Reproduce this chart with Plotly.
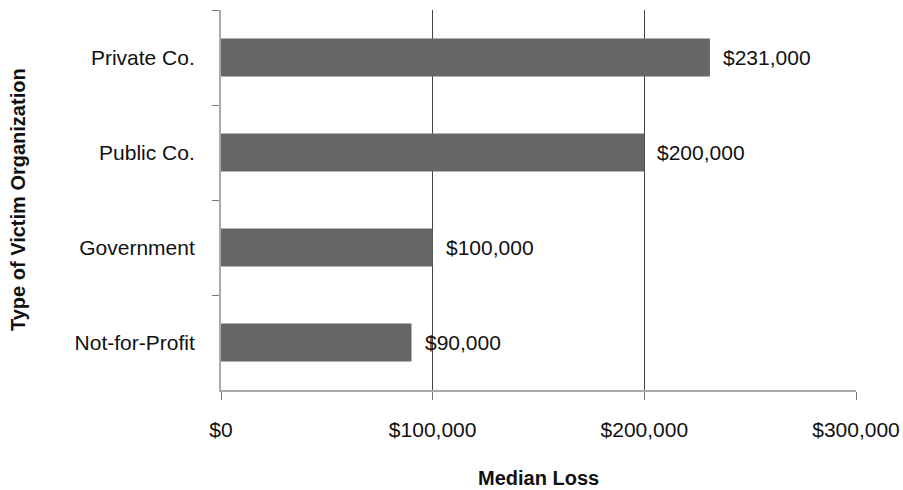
import plotly.graph_objects as go

categories = ["Private Co.", "Public Co.", "Government", "Not-for-Profit"]
median_loss = [231000, 200000, 100000, 90000]
value_labels = ["$231,000", "$200,000", "$100,000", "$90,000"]
x_tick_vals = [0, 100000, 200000, 300000]
x_tick_text = ["$0", "$100,000", "$200,000", "$300,000"]

FONT = "Liberation Sans, Arial, Helvetica, sans-serif"

fig = go.Figure()
fig.add_trace(go.Bar(
    y=categories, x=median_loss, orientation="h",
    marker=dict(color="#666666", line=dict(width=0)),
    width=0.4, hoverinfo="skip",
))

annotations = []
for c, v, t in zip(categories, median_loss, value_labels):
    annotations.append(dict(x=v, y=c, xref="x", yref="y", text=t,
                            showarrow=False, xanchor="left", xshift=11,
                            font=dict(size=21, color="#111111", family=FONT)))
annotations.append(dict(x=0, y=0.5, xref="paper", yref="paper", xshift=-203,
                        text="<b>Type of Victim Organization</b>", textangle=-90,
                        showarrow=False, xanchor="center", yanchor="middle",
                        font=dict(size=20, color="#111111", family=FONT)))
annotations.append(dict(x=0.5, y=0, xref="paper", yref="paper", yshift=-88,
                        text="<b>Median Loss</b>",
                        showarrow=False, xanchor="center", yanchor="middle",
                        font=dict(size=20, color="#111111", family=FONT)))

fig.update_layout(
    width=903, height=490,
    margin=dict(l=221, r=47, t=10, b=100),
    paper_bgcolor="white", plot_bgcolor="white",
    showlegend=False,
    font=dict(family=FONT, size=21, color="#111111"),
    annotations=annotations,
    xaxis=dict(
        range=[0, 300000], tickvals=x_tick_vals, ticktext=x_tick_text,
        showgrid=True, gridcolor="#444444", gridwidth=1,
        showline=True, linecolor="#aaaaaa", linewidth=2,
        ticks="outside", ticklen=8, tickcolor="#777777", tickwidth=1,
        ticklabelstandoff=12,
        zeroline=False, automargin=False,
    ),
    yaxis=dict(
        autorange="reversed",
        showgrid=False,
        showline=True, linecolor="#aaaaaa", linewidth=2,
        ticks="outside", ticklen=7, tickcolor="#777777", tickwidth=1,
        tickson="boundaries", ticklabelstandoff=20, automargin=False,
    ),
)

fig.write_html("out.html")
